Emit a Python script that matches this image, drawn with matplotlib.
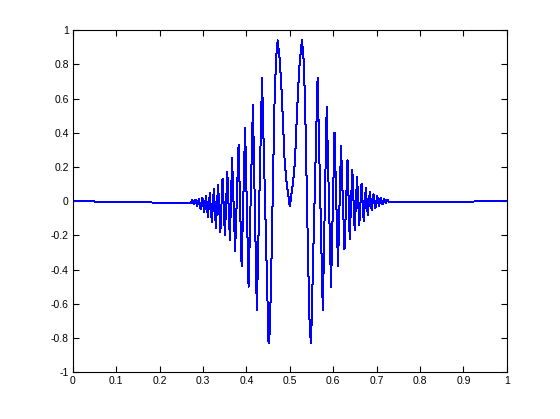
import numpy as np
import matplotlib
matplotlib.use('Agg')
import matplotlib.pyplot as plt

plt.rcParams['font.family'] = ['Liberation Sans', 'DejaVu Sans']

# distance of each read point from the centre t = 0.5 (extrema of the chirp)
offsets = [0, 0.008, 0.012, 0.0155, 0.019, 0.023, 0.028, 0.0315, 0.035, 0.0385,
           0.042, 0.046, 0.049, 0.064, 0.076, 0.085, 0.095, 0.103, 0.111, 0.118,
           0.126, 0.133, 0.138, 0.144, 0.1495, 0.155, 0.160, 0.1653, 0.1703,
           0.175, 0.1797, 0.1843, 0.1887, 0.193, 0.1972, 0.2014, 0.2055, 0.2095,
           0.2134, 0.2173, 0.221, 0.2248, 0.2286, 0.5]

# signal values left of the centre (same order as offsets)
left_vals = [-0.03, 0.12, 0.24, 0.45, 0.65, 0.82, 0.94, 0.84, 0.60, 0.15,
             -0.32, -0.76, -0.83, 0.72, -0.64, 0.56, -0.50, 0.43, -0.38, 0.33,
             -0.29, 0.25, -0.23, 0.17, -0.20, 0.13, -0.18, 0.095, -0.155, 0.07,
             -0.125, 0.045, -0.095, 0.03, -0.065, 0.02, -0.045, 0.012, -0.03,
             0.008, -0.018, 0.006, -0.012, 0.0]

# signal values right of the centre
right_vals = [-0.03, 0.12, 0.24, 0.45, 0.65, 0.82, 0.94, 0.84, 0.60, 0.15,
              -0.32, -0.76, -0.83, 0.72, -0.64, 0.55, -0.50, 0.40, -0.38, 0.32,
              -0.28, 0.24, -0.22, 0.185, -0.17, 0.14, -0.14, 0.10, -0.115, 0.075,
              -0.08, 0.055, -0.055, 0.04, -0.04, 0.028, -0.028, 0.018, -0.018,
              0.012, -0.012, 0.008, -0.008, 0.0]

x_ticks = [0, 0.1, 0.2, 0.3, 0.4, 0.5, 0.6, 0.7, 0.8, 0.9, 1]
x_labels = ['0', '0.1', '0.2', '0.3', '0.4', '0.5', '0.6', '0.7', '0.8', '0.9', '1']
y_ticks = [-1, -0.8, -0.6, -0.4, -0.2, 0, 0.2, 0.4, 0.6, 0.8, 1]
y_labels = ['-1', '-0.8', '-0.6', '-0.4', '-0.2', '0', '0.2', '0.4', '0.6', '0.8', '1']

off = np.array(offsets)
t = np.concatenate([0.5 - off[::-1], 0.5 + off[1:]])
y = np.concatenate([np.array(left_vals)[::-1], np.array(right_vals)[1:]])

fig = plt.figure(figsize=(5.6, 4.19), dpi=100)
ax = fig.add_axes([0.13, 0.112, 0.775, 0.816])
ax.plot(t, y, color='#0000ff', linewidth=0.72, antialiased=False)

ax.set_xlim(0, 1)
ax.set_ylim(-1, 1)
ax.set_xticks(x_ticks)
ax.set_xticklabels(x_labels)
ax.set_yticks(y_ticks)
ax.set_yticklabels(y_labels)
ax.tick_params(direction='in', top=True, right=True, length=4, width=0.8,
               labelsize=7.5, pad=3)
for sp in ax.spines.values():
    sp.set_linewidth(0.8)

fig.savefig('out.png', dpi=100)
